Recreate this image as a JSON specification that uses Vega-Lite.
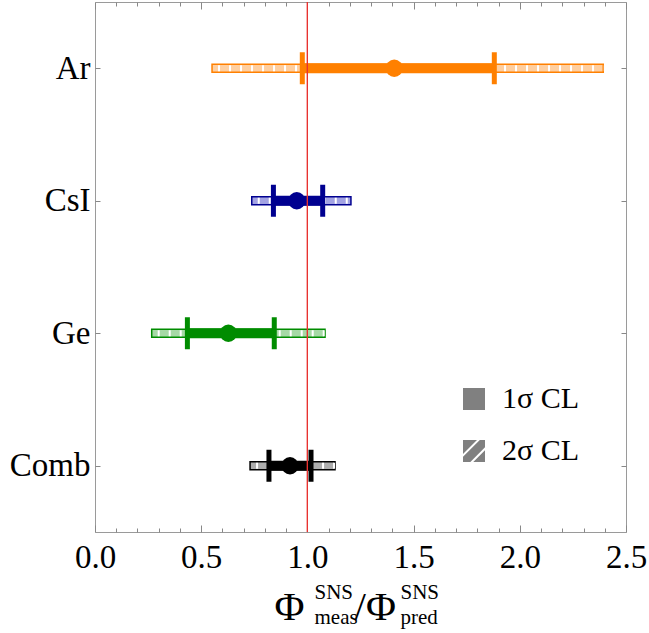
{
  "$schema": "https://vega.github.io/schema/vega-lite/v6.json",
  "width": 531,
  "height": 530,
  "autosize": {"type": "none"},
  "padding": {"left": 95, "top": 2, "right": 23, "bottom": 101},
  "config": {
    "view": {"stroke": "#9a9a9a", "strokeWidth": 1},
    "font": "Liberation Serif",
    "axis": {"domain": false, "grid": false, "labelFont": "Liberation Serif", "titleFont": "Liberation Serif", "tickColor": "#888888", "labelColor": "#000000", "titleColor": "#000000", "titleFontWeight": "normal"},
    "legend": {"labelFont": "Liberation Serif", "titleFont": "Liberation Serif"}
  },
  "data": {
    "values": [
      {"det": "Ar", "c": 1.409, "lo1": 0.976, "hi1": 1.880, "lo2": 0.551, "hi2": 2.393},
      {"det": "CsI", "c": 0.950, "lo1": 0.840, "hi1": 1.072, "lo2": 0.738, "hi2": 1.205},
      {"det": "Ge", "c": 0.628, "lo1": 0.435, "hi1": 0.844, "lo2": 0.267, "hi2": 1.083},
      {"det": "Comb", "c": 0.918, "lo1": 0.819, "hi1": 1.017, "lo2": 0.730, "hi2": 1.130}
    ]
  },
  "resolve": {"axis": {"x": "independent", "y": "independent"}},
  "layer": [
    {
      "mark": {"type": "bar", "height": 8, "strokeWidth": 1.5},
      "encoding": {
        "x": {"field": "lo2", "type": "quantitative", "scale": {"domain": [0, 2.5], "nice": false, "zero": false},
          "axis": {"orient": "bottom",
            "values": [0,0.1,0.2,0.3,0.4,0.5,0.6,0.7,0.8,0.9,1,1.1,1.2,1.3,1.4,1.5,1.6,1.7,1.8,1.9,2,2.1,2.2,2.3,2.4,2.5],
            "labelExpr": "round(datum.value*10)%5===0 ? format(datum.value,'.1f') : ''",
            "labelFontSize": 33, "labelPadding": 16, "labelFlush": false, "labelOverlap": false, "labelBound": false,
            "tickSize": {"condition": {"test": "round(datum.value*10)%5===0", "value": -7}, "value": -4},
            "title": "Φ", "titleFontSize": 41, "titleX": 179, "titleY": 87, "titleAlign": "left", "titleBaseline": "alphabetic", "titleAngle": 0}},
        "x2": {"field": "hi2"},
        "y": {"field": "det", "type": "nominal", "scale": {"type": "point", "domain": ["Ar", "CsI", "Ge", "Comb"], "padding": 0.5},
          "axis": {"orient": "left", "labelFontSize": 33, "labelPadding": 10, "tickSize": -5, "title": null}},
        "fill": {"field": "det", "type": "nominal", "legend": null, "scale": {"domain": ["Ar", "CsI", "Ge", "Comb"], "range": ["#FFCFA0", "#A3A3E3", "#A6D9A6", "#ADADAD"]}},
        "stroke": {"field": "det", "type": "nominal", "legend": null, "scale": {"domain": ["Ar", "CsI", "Ge", "Comb"], "range": ["#FF8000", "#000090", "#008C00", "#000000"]}}
      }
    },
    {
      "mark": {"type": "rule", "color": "#FFFFFF", "strokeWidth": 6, "strokeDash": [2, 9], "strokeDashOffset": 5, "strokeCap": "butt"},
      "encoding": {
        "x": {"field": "lo2", "type": "quantitative", "scale": {"domain": [0, 2.5], "nice": false, "zero": false},
          "axis": {"orient": "top",
            "values": [0,0.1,0.2,0.3,0.4,0.5,0.6,0.7,0.8,0.9,1,1.1,1.2,1.3,1.4,1.5,1.6,1.7,1.8,1.9,2,2.1,2.2,2.3,2.4,2.5],
            "labels": false,
            "tickSize": {"condition": {"test": "round(datum.value*10)%5===0", "value": -7}, "value": -4},
            "title": null}},
        "x2": {"field": "hi2"},
        "y": {"field": "det", "type": "nominal", "scale": {"type": "point", "domain": ["Ar", "CsI", "Ge", "Comb"], "padding": 0.5},
          "axis": {"orient": "right", "labels": false, "tickSize": -5, "title": null}}
      }
    },
    {
      "mark": {"type": "rule", "strokeWidth": 10, "strokeCap": "butt"},
      "encoding": {
        "x": {"field": "lo1", "type": "quantitative", "scale": {"domain": [0, 2.5], "nice": false, "zero": false},
          "axis": {"orient": "bottom", "ticks": false, "labels": false, "title": "SNS", "titleFontSize": 21, "titleX": 219, "titleY": 66, "titleAlign": "left", "titleBaseline": "alphabetic", "titleAngle": 0}},
        "x2": {"field": "hi1"},
        "y": {"field": "det", "type": "nominal", "scale": {"type": "point", "domain": ["Ar", "CsI", "Ge", "Comb"], "padding": 0.5}, "axis": null},
        "color": {"field": "det", "type": "nominal", "legend": null, "scale": {"domain": ["Ar", "CsI", "Ge", "Comb"], "range": ["#FF8000", "#000090", "#008C00", "#000000"]}}
      }
    },
    {
      "mark": {"type": "tick", "orient": "vertical", "size": 32, "thickness": 5, "opacity": 1},
      "encoding": {
        "x": {"field": "lo1", "type": "quantitative", "scale": {"domain": [0, 2.5], "nice": false, "zero": false},
          "axis": {"orient": "bottom", "ticks": false, "labels": false, "title": "meas", "titleFontSize": 21, "titleX": 219, "titleY": 91, "titleAlign": "left", "titleBaseline": "alphabetic", "titleAngle": 0}},
        "y": {"field": "det", "type": "nominal", "scale": {"type": "point", "domain": ["Ar", "CsI", "Ge", "Comb"], "padding": 0.5}, "axis": null},
        "color": {"field": "det", "type": "nominal", "legend": null, "scale": {"domain": ["Ar", "CsI", "Ge", "Comb"], "range": ["#FF8000", "#000090", "#008C00", "#000000"]}}
      }
    },
    {
      "mark": {"type": "tick", "orient": "vertical", "size": 32, "thickness": 5, "opacity": 1},
      "encoding": {
        "x": {"field": "hi1", "type": "quantitative", "scale": {"domain": [0, 2.5], "nice": false, "zero": false},
          "axis": {"orient": "bottom", "ticks": false, "labels": false, "title": "/Φ", "titleFontSize": 41, "titleX": 259, "titleY": 87, "titleAlign": "left", "titleBaseline": "alphabetic", "titleAngle": 0}},
        "y": {"field": "det", "type": "nominal", "scale": {"type": "point", "domain": ["Ar", "CsI", "Ge", "Comb"], "padding": 0.5}, "axis": null},
        "color": {"field": "det", "type": "nominal", "legend": null, "scale": {"domain": ["Ar", "CsI", "Ge", "Comb"], "range": ["#FF8000", "#000090", "#008C00", "#000000"]}}
      }
    },
    {
      "mark": {"type": "point", "shape": "circle", "filled": true, "size": 300, "opacity": 1},
      "encoding": {
        "x": {"field": "c", "type": "quantitative", "scale": {"domain": [0, 2.5], "nice": false, "zero": false},
          "axis": {"orient": "bottom", "ticks": false, "labels": false, "title": "SNS", "titleFontSize": 21, "titleX": 305, "titleY": 66, "titleAlign": "left", "titleBaseline": "alphabetic", "titleAngle": 0}},
        "y": {"field": "det", "type": "nominal", "scale": {"type": "point", "domain": ["Ar", "CsI", "Ge", "Comb"], "padding": 0.5}, "axis": null},
        "color": {"field": "det", "type": "nominal", "legend": null, "scale": {"domain": ["Ar", "CsI", "Ge", "Comb"], "range": ["#FF8000", "#000090", "#008C00", "#000000"]}}
      }
    },
    {
      "mark": {"type": "rule", "color": "#E8332F", "strokeWidth": 1},
      "encoding": {
        "x": {"datum": 1, "type": "quantitative", "scale": {"domain": [0, 2.5], "nice": false, "zero": false},
          "axis": {"orient": "bottom", "ticks": false, "labels": false, "title": "pred", "titleFontSize": 21, "titleX": 305, "titleY": 91, "titleAlign": "left", "titleBaseline": "alphabetic", "titleAngle": 0}}
      }
    },
    {
      "data": {"values": [{"cl": "1σ CL"}, {"cl": "2σ CL"}]},
      "mark": {"type": "point", "filled": true, "color": "#808080", "opacity": 0},
      "encoding": {
        "shape": {"field": "cl", "type": "nominal",
          "scale": {"domain": ["1σ CL", "2σ CL"], "range": ["square", "M-1,-1L0.27,-1L-1,0.27Z M0.53,-1L1,-1L1,-0.33L-0.33,1L-1,1L-1,0.53Z M1,-0.07L1,1L-0.07,1Z"]},
          "legend": {"orient": "none", "legendX": 364, "legendY": 382, "title": null, "padding": 0,
            "labelFontSize": 30, "labelColor": "#000000", "labelOffset": 13, "rowPadding": 22, "symbolSize": 484,
            "encode": {"symbols": {"update": {"opacity": {"value": 1}, "fill": {"value": "#808080"}, "strokeWidth": {"value": 0}}}}}}
      }
    }
  ]
}
